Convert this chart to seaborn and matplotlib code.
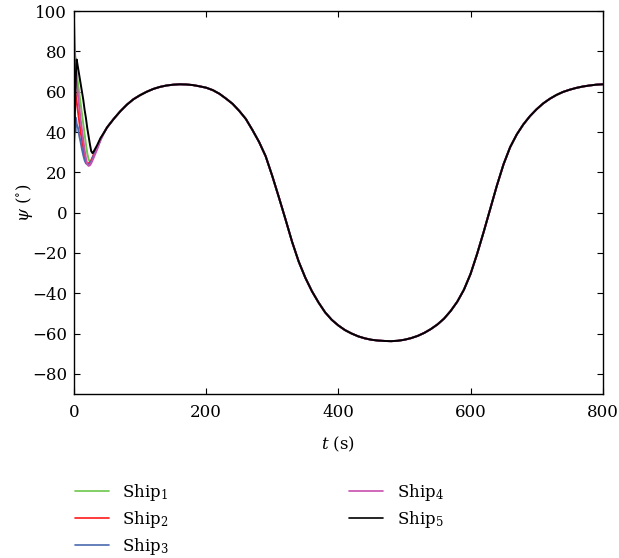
import numpy as np
import pandas as pd
import matplotlib
matplotlib.use("Agg")
import matplotlib.pyplot as plt
import seaborn as sns

# 早期瞬態 (各船不同)
t_early = [0, 1, 2, 3, 4, 6, 8, 10, 12, 14, 16, 18, 20, 22, 24, 26, 28, 30, 35, 40]
ship1_early = [80, 79, 77, 73, 70, 64, 59, 54, 49, 44, 39, 34, 29.5, 26.5, 25.3, 25.5, 27, 28.5, 32.5, 36.5]
ship2_early = [50, 62, 60, 57, 55, 50, 45, 40, 36, 32, 28, 25, 24.3, 24.5, 25, 26, 27.5, 29, 32.5, 36.5]
ship3_early = [36, 48, 40, 47, 44, 42, 38, 35, 31.5, 28.5, 26, 24.5, 24, 24, 24.5, 25.5, 27, 28.5, 32, 36]
ship4_early = [95, 85, 75, 69, 65, 58, 52, 46, 41, 36, 31, 27, 24, 23.2, 23.5, 24.5, 26, 27.5, 31.5, 36]
ship5_early = [34, 45, 58, 70, 76, 72, 68, 64, 60, 56, 51, 47, 42, 38, 34, 30.5, 29.5, 30.5, 33.5, 37]

# 共同曲線 (收斂後)
t_tail = [45, 50, 60, 70, 80, 90, 100, 110, 120, 130, 140, 150, 160, 170, 180, 190, 200,
          210, 220, 230, 240, 250, 260, 270, 280, 290, 300, 310, 320, 330, 340, 350, 360,
          370, 380, 390, 400, 410, 420, 430, 440, 450, 460, 470, 480, 490, 500, 510, 520,
          530, 540, 550, 560, 570, 580, 590, 600, 610, 620, 630, 640, 650, 660, 670, 680,
          690, 700, 710, 720, 730, 740, 750, 760, 770, 780, 790, 800]
psi_tail = [39.5, 42.3, 46.5, 50.3, 53.6, 56.3, 58.3, 60.0, 61.4, 62.4, 63.1, 63.5, 63.7,
            63.6, 63.3, 62.7, 62.0, 60.8, 59.0, 56.6, 54.0, 50.5, 46.5, 41.0, 35.1, 28.0,
            18.2, 7.6, -3.3, -14.5, -24.3, -32.3, -39.0, -44.6, -49.5, -53.2, -56.0, -58.3,
            -60.0, -61.4, -62.4, -63.1, -63.5, -63.7, -63.8, -63.6, -63.1, -62.3, -61.2,
            -59.7, -57.8, -55.5, -52.6, -48.8, -44.2, -38.3, -30.5, -20.5, -9.5, 2.0, 13.5,
            24.0, 32.5, 38.8, 43.8, 47.9, 51.3, 54.2, 56.5, 58.4, 59.9, 61.0, 61.9, 62.6,
            63.1, 63.5, 63.7]

names = ["Ship$_1$", "Ship$_2$", "Ship$_3$", "Ship$_4$", "Ship$_5$"]
early = [ship1_early, ship2_early, ship3_early, ship4_early, ship5_early]
colors = ["#6cc64a", "#ff1a1a", "#4a6aae", "#c84fb0", "#000000"]

rows = []
for name, vals in zip(names, early):
    for t, v in zip(t_early + t_tail, vals + psi_tail):
        rows.append({"t": t, "psi": v, "ship": name})
df = pd.DataFrame(rows)

sns.set_style("ticks")
plt.rcParams['font.family'] = ['DejaVu Serif']
plt.rcParams['mathtext.fontset'] = 'dejavuserif'
plt.rcParams['font.size'] = 12
plt.rcParams['text.color'] = 'black'
plt.rcParams['axes.labelcolor'] = 'black'

fig = plt.figure(figsize=(6.19, 5.58), dpi=100)
ax = fig.add_axes([0.1196, 0.294, 0.854, 0.686])

sns.lineplot(data=df, x="t", y="psi", hue="ship", palette=colors, hue_order=names,
             linewidth=1.4, ax=ax, legend=False, sort=False, estimator=None)

ax.set_xlim(0, 800)
ax.set_ylim(-90, 100)
ax.set_xticks(range(0, 801, 200))
ax.set_yticks(range(-80, 101, 20))
ax.set_yticklabels([str(v).replace('-', '\u2212') for v in range(-80, 101, 20)])
ax.tick_params(direction='in', top=True, right=True, length=4, width=0.8,
               labelsize=12, colors='black', pad=7)
ax.tick_params(axis='y', pad=5)
for s in ax.spines.values():
    s.set_linewidth(1.0)
    s.set_color('black')
ax.set_xlabel("$t$ (s)", fontsize=12, labelpad=10)
ax.set_ylabel("$\\psi$ ($^{\\circ}$)", fontsize=12, labelpad=-2)

handles = [plt.Line2D([], [], color=c, lw=1.2) for c in colors]
fig.legend(handles, names, loc='upper left', bbox_to_anchor=(0.121, 0.137),
           ncol=2, frameon=False, fontsize=12, handlelength=2.05,
           columnspacing=10.8, labelspacing=0.38, borderpad=0, borderaxespad=0,
           handletextpad=0.8)

fig.savefig("out.png", dpi=100)
